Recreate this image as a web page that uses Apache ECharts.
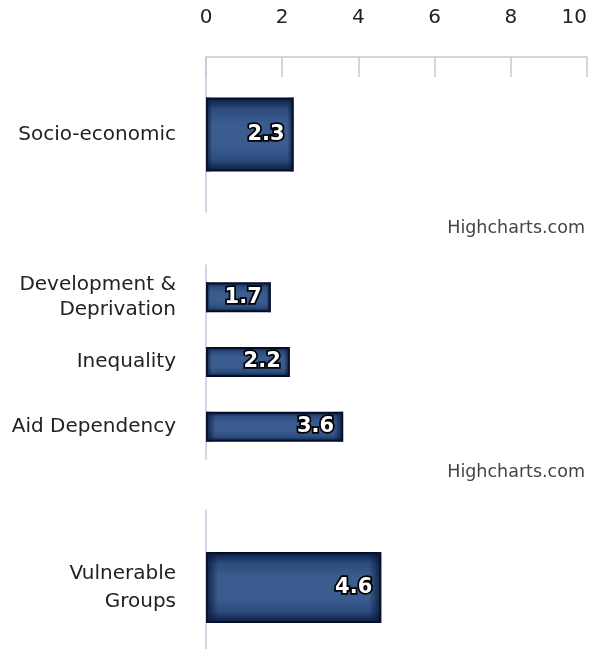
<!DOCTYPE html>
<html>
<head>
<meta charset="utf-8">
<script src="https://cdn.jsdelivr.net/npm/echarts@6/dist/echarts.min.js"></script>
<style>
html,body{margin:0;padding:0;background:#fff;}
#chart{width:589px;height:649px;}
</style>
</head>
<body>
<div id="chart"></div>
<script>
// ---- data ----
var socioCategories = ['Socio-economic'];
var socioValues = [2.3];
var devCategories = ['Development &\nDeprivation', 'Inequality', 'Aid Dependency'];
var devValues = [1.7, 2.2, 3.6];
var vulnCategories = ['Vulnerable\nGroups'];
var vulnValues = [4.6];
var xTicks = [0, 2, 4, 6, 8, 10];
var creditText = 'Highcharts.com';

// ---- styles ----
var FONT = 'DejaVu Sans';
var axisColor = '#c3c9d8';
var fillGradient = new echarts.graphic.LinearGradient(0, 0, 0, 1, [
  {offset: 0, color: '#0a1a3e'},
  {offset: 0.16, color: '#2c4c7e'},
  {offset: 0.35, color: '#3a5c8e'},
  {offset: 0.65, color: '#3a5c8e'},
  {offset: 0.84, color: '#2c4c7e'},
  {offset: 1, color: '#0a1a3e'}
]);
var edgeGradient = new echarts.graphic.LinearGradient(0, 0, 1, 0, [
  {offset: 0, color: 'rgba(8,20,50,0.85)'},
  {offset: 0.07, color: 'rgba(8,20,50,0)'},
  {offset: 0.93, color: 'rgba(8,20,50,0)'},
  {offset: 1, color: 'rgba(8,20,50,0.85)'}
]);

var chart = echarts.init(document.getElementById('chart'), null, {renderer: 'canvas'});

var grids = [
  {left: 206, width: 381, top: 57, height: 155, outerBoundsMode: 'none', containLabel: false},
  {left: 206, width: 381, top: 265, height: 194, outerBoundsMode: 'none', containLabel: false},
  {left: 206, width: 381, top: 510, height: 155, outerBoundsMode: 'none', containLabel: false}
];

function xAxis(idx, showLabels) {
  return {
    type: 'value', gridIndex: idx,
    min: xTicks[0], max: xTicks[xTicks.length - 1], interval: xTicks[1] - xTicks[0],
    position: 'top',
    show: showLabels,
    axisLine: {show: true, lineStyle: {color: axisColor, width: 1.5}},
    axisTick: {show: true, inside: true, length: 20, lineStyle: {color: axisColor, width: 1.5}},
    axisLabel: {show: true, margin: 29, color: '#222', fontSize: 20, fontFamily: FONT, alignMaxLabel: 'right'},
    splitLine: {show: false}
  };
}
function yAxis(idx, cats, lh) {
  return {
    type: 'category', gridIndex: idx, data: cats, inverse: true,
    axisLine: {show: true, lineStyle: {color: axisColor, width: 1.5}},
    axisTick: {show: false},
    axisLabel: {margin: 30, color: '#222', fontSize: 20, fontFamily: FONT, lineHeight: lh, align: 'right'}
  };
}
function barPair(idx, vals, bw) {
  return [
    {
      type: 'bar', xAxisIndex: idx, yAxisIndex: idx, data: vals, barWidth: bw,
      itemStyle: {color: fillGradient, borderColor: '#050e26', borderWidth: 2},
      silent: true, animation: false
    },
    {
      type: 'bar', xAxisIndex: idx, yAxisIndex: idx, data: vals, barWidth: bw, barGap: '-100%',
      itemStyle: {color: edgeGradient},
      label: {
        show: true, position: 'insideRight', distance: 9,
        color: '#fff', fontWeight: 'bold', fontSize: 21, fontFamily: FONT,
        textBorderColor: '#000', textBorderWidth: 3.5
      },
      silent: true, animation: false
    }
  ];
}

var option = {
  backgroundColor: '#fff',
  animation: false,
  grid: grids,
  xAxis: [xAxis(0, true), xAxis(1, false), xAxis(2, false)],
  yAxis: [yAxis(0, socioCategories, 24), yAxis(1, devCategories, 25), yAxis(2, vulnCategories, 28)],
  series: [].concat(barPair(0, socioValues, 74), barPair(1, devValues, 30), barPair(2, vulnValues, 71)),
  graphic: [
    {type: 'text', right: 4, top: 219, style: {text: creditText, fill: '#444', font: '17.5px "DejaVu Sans"'}},
    {type: 'text', right: 4, top: 463, style: {text: creditText, fill: '#444', font: '17.5px "DejaVu Sans"'}}
  ]
};
chart.setOption(option);
</script>
</body>
</html>
